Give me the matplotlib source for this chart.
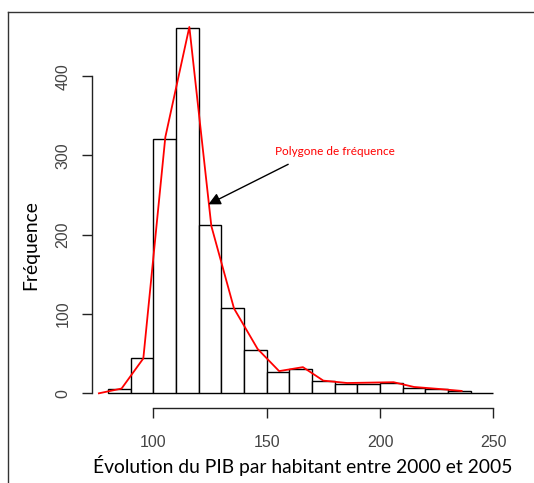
import numpy as np
import matplotlib
matplotlib.use("Agg")
import matplotlib.pyplot as plt
from matplotlib.lines import Line2D

# histogram (bins of width 10 from 80 to 250)
bin_edges = np.arange(80, 251, 10)
counts = [5, 45, 321, 461, 212, 107, 55, 27, 31, 15, 12, 12, 13, 7, 5, 3, 1]

# frequency polygon, as drawn on the reference
poly_x = [76, 86, 95.6, 105.3, 115.9, 125.6, 135.6, 146, 155.5, 166, 175,
          185.5, 196, 206, 215, 226, 236]
poly_y = [0, 6, 44, 323, 462, 211, 107, 56, 28, 33, 16, 13, 13.5, 14, 8, 5.5, 3]

x_ticks = [100, 150, 200, 250]
y_ticks = [0, 100, 200, 300, 400]

W, H = 534, 483
fig = plt.figure(figsize=(W / 100, H / 100), dpi=100)
fig.patch.set_facecolor("white")

# screenshot frame (left and top edges only)
fig.add_artist(Line2D([8.3 / W, 8.3 / W], [0, 1 - 12.3 / H], color="#333333", lw=1.0))
fig.add_artist(Line2D([8.3 / W, 1], [1 - 12.3 / H, 1 - 12.3 / H], color="#333333", lw=1.0))

ax = fig.add_axes([91.5 / W, (H - 408.3) / H, (504.7 - 91.5) / W, (408.3 - 12.7) / H])
ax.set_xlim(72.74, 255)
ax.set_ylim(-18.9, 480)

ax.bar(bin_edges[:-1], counts, width=np.diff(bin_edges), align="edge",
       facecolor="white", edgecolor="black", linewidth=1.0, zorder=2)
ax.plot(poly_x, poly_y, color="red", lw=1.3, zorder=3, clip_on=False)

for s in ["top", "right"]:
    ax.spines[s].set_visible(False)
ax.spines["left"].set_bounds(0, 400)
ax.spines["bottom"].set_bounds(100, 250)
for s in ["left", "bottom"]:
    ax.spines[s].set_color("#222222")
    ax.spines[s].set_linewidth(1.0)

ax.set_xticks(x_ticks)
ax.set_yticks(y_ticks)
ax.tick_params(axis="x", length=7, width=1.0, color="#222222", pad=12,
               labelsize=11.5, labelcolor="#444444")
ax.tick_params(axis="y", length=7, width=1.0, color="#222222", pad=8,
               labelsize=11.5, labelcolor="#444444", labelrotation=90)
for lab in ax.get_yticklabels():
    lab.set_verticalalignment("center")
for lab in ax.get_xticklabels() + ax.get_yticklabels():
    lab.set_fontfamily("Liberation Sans")

fig.text(303 / W, 1 - 466 / H, "Évolution du PIB par habitant entre 2000 et 2005",
         ha="center", va="center", fontsize=13.9, family="Lato", color="black")
fig.text(30.5 / W, 1 - 245.3 / H, "Fréquence", ha="center", va="center",
         rotation=90, fontsize=13.9, family="Lato", color="black")

ax.annotate("", xy=(124.3, 238.3), xytext=(159.5, 288.8),
            arrowprops=dict(arrowstyle="-|>", color="black", lw=1.0,
                            mutation_scale=18, shrinkA=0, shrinkB=0))
ax.text(180.2, 304.7, "Polygone de fréquence", color="red", fontsize=8.5,
        family="Lato", ha="center", va="center")

fig.savefig("out.png", dpi=100)
